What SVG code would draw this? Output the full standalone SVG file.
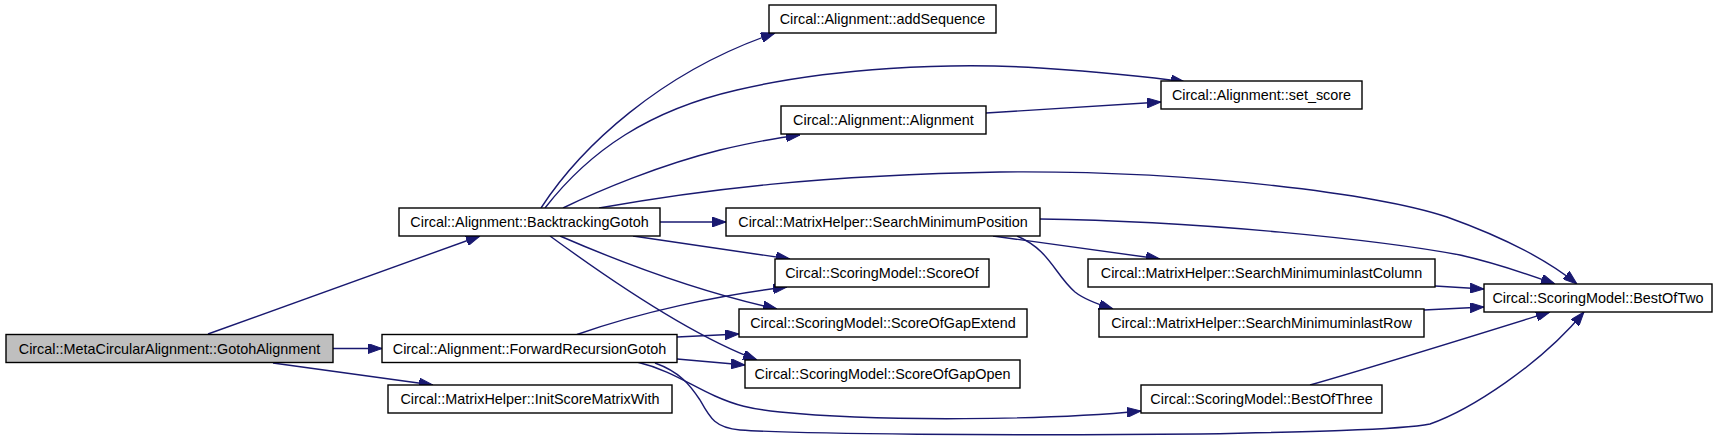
<svg xmlns="http://www.w3.org/2000/svg" width="1717" height="445" viewBox="0 0 1717 445">
<style>
.node rect{fill:#ffffff;stroke:#000000;stroke-width:1.4}
.node.root rect{fill:#bfbfbf}
.node text{font-family:"Liberation Sans",Arial,sans-serif;font-size:14.4px;fill:#000000;text-anchor:middle}
.edges path{fill:none;stroke:#191970;stroke-width:1.4;marker-end:url(#arrow)}
</style>
<defs>
<marker id="arrow" markerUnits="userSpaceOnUse" markerWidth="14" markerHeight="10" refX="14" refY="5" orient="auto">
<path d="M0,0 L14,5 L0,10 z" fill="#191970" stroke="#191970" stroke-width="1"/>
</marker>
</defs>
<rect width="1717" height="445" fill="#ffffff"/>
<g class="edges" id="edges">
<path d="M208,334 L480,236"/>
<path d="M333,348.5 L382,348.5"/>
<path d="M273,363 L433,385"/>
<path d="M541,208 C580,148 660,72 775,33"/>
<path d="M545,208 C590,150 650,110 737,90 C830,68 950,62 1040,68 C1100,72 1150,77 1185,82"/>
<path d="M563,208 C600,190 660,165 720,150 C750,143 775,138 800,135"/>
<path d="M986,113 L1161,102"/>
<path d="M599,208 C700,190 820,175 1000,172 C1200,170 1380,195 1447,217 C1500,236 1545,258 1577,284"/>
<path d="M660,222 L726,222"/>
<path d="M633,236 L790,259"/>
<path d="M560,236 C620,262 700,292 777,309"/>
<path d="M550,236 C610,280 690,335 757,360"/>
<path d="M577,334.5 C640,312 720,295 787,287"/>
<path d="M677,337 L739,334"/>
<path d="M677,359 L745,365"/>
<path d="M637,362 C670,370 690,385 715,396 C735,405 750,409 780,412 C880,422 1050,420 1141,411"/>
<path d="M655,363 C680,372 690,385 700,400 C710,418 715,428 740,430 C800,434 1000,436 1200,434 C1300,432 1400,430 1430,424 C1470,410 1540,365 1584,312"/>
<path d="M1040,219 C1200,221 1380,240 1460,255 C1500,264 1530,275 1555,284"/>
<path d="M993,236 L1160,259"/>
<path d="M1017,236 C1050,250 1055,275 1075,292 C1085,300 1100,305 1113,309"/>
<path d="M1435,286 L1484,289"/>
<path d="M1424,310 L1484,307"/>
<path d="M1310,385 C1380,365 1460,340 1550,312"/>
</g>
<g class="node root" id="node-gotoh"><rect x="6" y="334.5" width="327" height="28"/><text x="169.5" y="353.5">Circal::MetaCircularAlignment::GotohAlignment</text></g>
<g class="node" id="node-backtracking"><rect x="399" y="208" width="261" height="28"/><text x="529.5" y="227">Circal::Alignment::BacktrackingGotoh</text></g>
<g class="node" id="node-forward"><rect x="382" y="334.5" width="295" height="28"/><text x="529.5" y="353.5">Circal::Alignment::ForwardRecursionGotoh</text></g>
<g class="node" id="node-init"><rect x="388" y="385" width="284" height="28"/><text x="530" y="404">Circal::MatrixHelper::InitScoreMatrixWith</text></g>
<g class="node" id="node-addsequence"><rect x="769" y="5" width="227" height="28"/><text x="882.5" y="24">Circal::Alignment::addSequence</text></g>
<g class="node" id="node-alignment"><rect x="781" y="106" width="205" height="28"/><text x="883.5" y="125">Circal::Alignment::Alignment</text></g>
<g class="node" id="node-setscore"><rect x="1161" y="81" width="201" height="28"/><text x="1261.5" y="100">Circal::Alignment::set_score</text></g>
<g class="node" id="node-searchminpos"><rect x="726" y="208" width="314" height="28"/><text x="883" y="227">Circal::MatrixHelper::SearchMinimumPosition</text></g>
<g class="node" id="node-scoreof"><rect x="775" y="259" width="214" height="28"/><text x="882" y="278">Circal::ScoringModel::ScoreOf</text></g>
<g class="node" id="node-gapextend"><rect x="739" y="309" width="288" height="28"/><text x="883" y="328">Circal::ScoringModel::ScoreOfGapExtend</text></g>
<g class="node" id="node-gapopen"><rect x="745" y="360" width="275" height="28"/><text x="882.5" y="379">Circal::ScoringModel::ScoreOfGapOpen</text></g>
<g class="node" id="node-lastcolumn"><rect x="1088" y="259" width="347" height="28"/><text x="1261.5" y="278">Circal::MatrixHelper::SearchMinimuminlastColumn</text></g>
<g class="node" id="node-lastrow"><rect x="1099" y="309" width="325" height="28"/><text x="1261.5" y="328">Circal::MatrixHelper::SearchMinimuminlastRow</text></g>
<g class="node" id="node-bestofthree"><rect x="1141" y="385" width="241" height="28"/><text x="1261.5" y="404">Circal::ScoringModel::BestOfThree</text></g>
<g class="node" id="node-bestoftwo"><rect x="1484" y="284" width="228" height="28"/><text x="1598" y="303">Circal::ScoringModel::BestOfTwo</text></g>
</svg>
